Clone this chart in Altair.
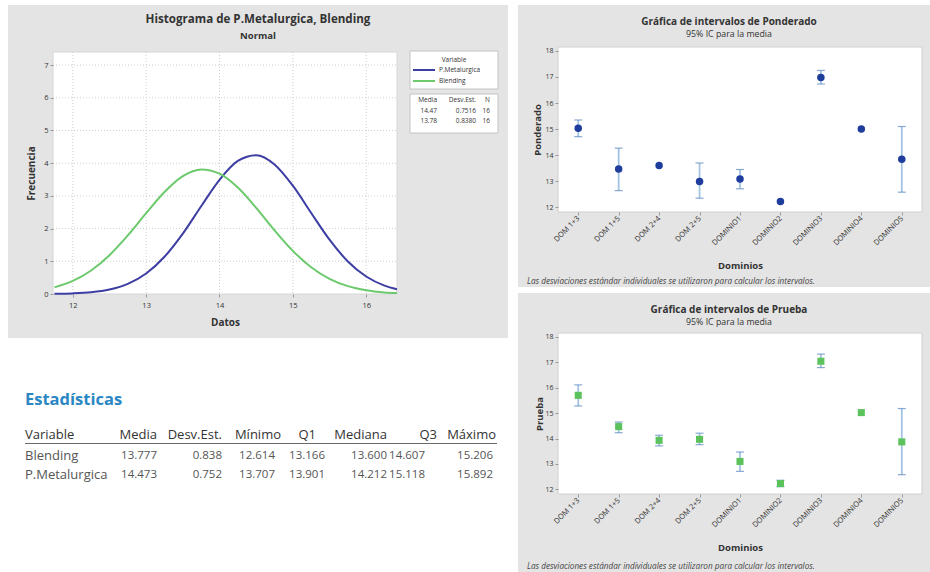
import altair as alt
import pandas as pd

FONT = "Open Sans"
PANEL_GREY = "#e4e4e4"
TEXT = "#333333"
W, H = 930, 572

# ---------------- Histogram panel: fitted normal curves ----------------
datos = [11.75, 12.0, 12.25, 12.5, 12.75, 13.0, 13.25, 13.5, 13.75, 14.0,
         14.25, 14.5, 14.75, 15.0, 15.25, 15.5, 15.75, 16.0, 16.25, 16.42]
frec_metalurgica = [0.006, 0.019, 0.054, 0.137, 0.310, 0.627, 1.138, 1.846, 2.683, 3.492,
                    4.068, 4.243, 3.961, 3.311, 2.478, 1.660, 0.996, 0.535, 0.257, 0.147]
frec_blending = [0.203, 0.399, 0.719, 1.187, 1.790, 2.470, 3.118, 3.602, 3.807, 3.680,
                 3.254, 2.634, 1.949, 1.320, 0.818, 0.463, 0.240, 0.114, 0.049, 0.027]
hist_x_ticks = [12, 13, 14, 15, 16]
hist_y_ticks = [0, 1, 2, 3, 4, 5, 6, 7]
series = ["P.Metalurgica", "Blending"]
series_colors = ["#3c3ea3", "#6cc96c"]
leg_media = ["14.47", "13.78"]
leg_desv = ["0.7516", "0.8380"]
leg_n = ["16", "16"]

# ---------------- Statistics table ----------------
stat_variables = ["Blending", "P.Metalurgica"]
stat_media = [13.777, 14.473]
stat_desv = [0.838, 0.752]
stat_minimo = [12.614, 13.707]
stat_q1 = [13.166, 13.901]
stat_mediana = [13.600, 14.212]
stat_q3 = [14.607, 15.118]
stat_maximo = [15.206, 15.892]
stat_headers = ["Variable", "Media", "Desv.Est.", "Mínimo", "Q1", "Mediana", "Q3", "Máximo"]

# ---------------- Interval plots ----------------
dominios = ["DOM 1+3", "DOM 1+5", "DOM 2+4", "DOM 2+5", "DOMINIO1",
            "DOMINIO2", "DOMINIO3", "DOMINIO4", "DOMINIO5"]
interval_y_ticks = [12, 13, 14, 15, 16, 17, 18]
pond_media = [15.03, 13.47, 13.60, 12.99, 13.09, 12.22, 16.98, 15.00, 13.84]
pond_inf = [14.71, 12.64, None, 12.35, 12.71, None, 16.73, None, 12.58]
pond_sup = [15.35, 14.27, None, 13.70, 13.45, None, 17.25, None, 15.10]
prueba_media = [15.70, 14.47, 13.93, 13.97, 13.10, 12.23, 17.04, 15.02, 13.87]
prueba_inf = [15.28, 14.23, 13.71, 13.76, 12.71, 12.11, 16.79, None, 12.58]
prueba_sup = [16.11, 14.65, 14.13, 14.21, 13.47, 12.36, 17.32, None, 15.18]

NOTE = "Las desviaciones estándar individuales se utilizaron para calcular los intervalos."

one = pd.DataFrame({"k": [0]})


def text_layer(txt, x, y, size, weight="normal", align="center", baseline="middle",
               color=TEXT, style="normal", line_height=None):
    props = dict(fontSize=size, fontWeight=weight, align=align, baseline=baseline,
                 color=color, fontStyle=style, font=FONT)
    if line_height is not None:
        props["lineHeight"] = line_height
    return alt.Chart(one).mark_text(**props).encode(
        x=alt.value(x), y=alt.value(y), text=alt.value(txt))


def rect(x1, y1, x2, y2, **kw):
    return alt.Chart(one).mark_rect(**kw).encode(
        x=alt.value(x1), x2=alt.value(x2), y=alt.value(y1), y2=alt.value(y2))


def axis_style(**kw):
    base = dict(labelColor=TEXT, tickSize=3, tickColor="#9a9a9a", domain=False,
                grid=False, titleColor=TEXT, titleFontWeight="bold",
                titleBaseline="middle", zindex=1)
    base.update(kw)
    return alt.Axis(**base)


layers = []

# ======== Histogram (plot area x 53..397, y 52..294) ========
hx_scale = alt.Scale(domain=[11.73, 16.42], range=[53, 397], nice=False, zero=False)
hy_scale = alt.Scale(domain=[0, 7.4], range=[294, 52], nice=False, zero=False)

curves = pd.DataFrame({
    "Datos": datos * 2,
    "Frecuencia": frec_metalurgica + frec_blending,
    "Variable": [series[0]] * len(datos) + [series[1]] * len(datos),
})

layers += [
    rect(8, 5, 508, 338, color=PANEL_GREY),
    rect(53, 52, 397, 294, fill="white", stroke="#d6d6d6", strokeWidth=1),
    alt.Chart(pd.DataFrame({"t": hist_x_ticks})).mark_rule(
        color="#cfcfcf", strokeDash=[1, 2], strokeWidth=1).encode(
        x=alt.X("t:Q", scale=hx_scale, axis=None), y=alt.value(52), y2=alt.value(294)),
    alt.Chart(pd.DataFrame({"t": hist_y_ticks[1:]})).mark_rule(
        color="#cfcfcf", strokeDash=[1, 2], strokeWidth=1).encode(
        y=alt.Y("t:Q", scale=hy_scale, axis=None), x=alt.value(53), x2=alt.value(397)),
    alt.Chart(curves).mark_line(strokeWidth=2, interpolate="monotone").encode(
        x=alt.X("Datos:Q", scale=hx_scale,
                axis=axis_style(values=hist_x_ticks, format="d", orient="bottom", offset=294 - H,
                                title="Datos", labelFontSize=7.5, labelPadding=4,
                                titleFontSize=10, titleX=225, titleY=28)),
        y=alt.Y("Frecuencia:Q", scale=hy_scale,
                axis=axis_style(values=hist_y_ticks, format="d", orient="left", offset=-53,
                                title="Frecuencia", labelFontSize=7.5, labelPadding=2,
                                titleFontSize=10, titleX=-22, titleY=173)),
        color=alt.Color("Variable:N", sort=series,
                        scale=alt.Scale(domain=series, range=series_colors), legend=None),
        detail="Variable:N",
    ),
    text_layer("Histograma de P.Metalurgica, Blending", 258, 20, 11.6, weight="bold"),
    text_layer("Normal", 258, 36, 9.5, weight="bold"),
]

# legend box: Variable
leg_df = pd.DataFrame({"Variable": series})
leg_y = alt.Y("Variable:N", sort=series,
              scale=alt.Scale(type="point", domain=series, range=[70, 81], padding=0),
              axis=None)
layers += [
    rect(410, 51, 498, 89, fill="white", stroke="#c4c4c4", strokeWidth=1),
    text_layer("Variable", 454, 60, 6.5),
    alt.Chart(leg_df).mark_rule(strokeWidth=2).encode(
        x=alt.value(413), x2=alt.value(435), y=leg_y,
        color=alt.Color("Variable:N", scale=alt.Scale(domain=series, range=series_colors),
                        legend=None)),
    alt.Chart(leg_df).mark_text(align="left", baseline="middle", fontSize=6.5,
                                color=TEXT, font=FONT).encode(
        x=alt.value(439), y=leg_y, text="Variable:N"),
]
# legend box: fitted parameters
layers += [
    rect(410, 94, 498, 133, fill="white", stroke="#c4c4c4", strokeWidth=1),
    text_layer(["Media"] + leg_media, 437, 97, 6.5, align="right", baseline="top", line_height=10.5),
    text_layer(["Desv.Est."] + leg_desv, 476, 97, 6.5, align="right", baseline="top", line_height=10.5),
    text_layer(["N"] + leg_n, 490, 97, 6.5, align="right", baseline="top", line_height=10.5),
]

# ======== Statistics table ========
tabla = pd.DataFrame({
    "Variable": stat_variables, "media": stat_media, "desv": stat_desv,
    "minimo": stat_minimo, "q1": stat_q1, "mediana": stat_mediana,
    "q3": stat_q3, "maximo": stat_maximo,
})
num_fields = ["media", "desv", "minimo", "q1", "mediana", "q3", "maximo"]
col_right = [157, 222, 275, 325, 387, 425, 493]
header_anchor = [("left", 25), ("right", 157), ("right", 222), ("right", 281),
                 ("right", 316), ("right", 387), ("right", 437), ("right", 496)]
row_y = alt.Y("Variable:N", sort=stat_variables,
              scale=alt.Scale(type="point", domain=stat_variables, range=[456, 475], padding=0),
              axis=None)

layers.append(text_layer("Estadísticas", 25, 400, 16.5, weight="bold", align="left",
                         color="#2b87c3"))
for label, (align, xpos) in zip(stat_headers, header_anchor):
    layers.append(text_layer(label, xpos, 435, 13, align=align, color="#333333"))
layers.append(alt.Chart(one).mark_rule(color="#6a6a6a", strokeWidth=1.2).encode(
    x=alt.value(25), x2=alt.value(497), y=alt.value(443.5)))
layers.append(alt.Chart(tabla).mark_text(align="left", baseline="middle", fontSize=13,
                                         color="#555555", font=FONT).encode(
    x=alt.value(25), y=row_y, text="Variable:N"))
for field, xpos in zip(num_fields, col_right):
    layers.append(alt.Chart(tabla).mark_text(align="right", baseline="middle", fontSize=11.5,
                                             color="#555555", font=FONT).encode(
        x=alt.value(xpos), y=row_y, text=alt.Text(f"{field}:Q", format=".3f")))


# ======== Interval plots ========
def interval_panel(valores, inferior, superior, nombre, marca,
                   panel_top, panel_bottom, plot_top, plot_bottom, ytitle_x):
    df = pd.DataFrame({"Dominios": dominios, "valor": valores,
                       "inf": inferior, "sup": superior})
    xscale = alt.Scale(type="point", domain=dominios, range=[558, 922], padding=0.5)
    yscale = alt.Scale(domain=[11.82, 18.15], range=[plot_bottom, plot_top],
                       nice=False, zero=False)
    x_plain = alt.X("Dominios:N", sort=dominios, scale=xscale, axis=None)
    x_axis = alt.X("Dominios:N", sort=dominios, scale=xscale,
                   axis=axis_style(orient="bottom", offset=plot_bottom - H, title="Dominios",
                                   labelAngle=315, labelAlign="right", labelBaseline="middle",
                                   labelFontSize=7.5, labelPadding=2, titleFontSize=9.5,
                                   titleX=740, titleY=53))
    y_axis = alt.Axis(values=interval_y_ticks, format="d", orient="left", offset=-558,
                      title=nombre, labelColor=TEXT, labelFontSize=7, labelPadding=2,
                      tickSize=3, tickColor="#9a9a9a", domain=False, grid=False,
                      titleColor=TEXT, titleFontWeight="bold", titleFontSize=9.5,
                      titleBaseline="middle", titleX=ytitle_x,
                      titleY=(plot_top + plot_bottom) / 2, zindex=1)

    out = [
        rect(518, panel_top, 930, panel_bottom, color=PANEL_GREY),
        rect(558, plot_top, 922, plot_bottom, fill="white", stroke="#d0d0d0", strokeWidth=1),
        alt.Chart(df).mark_rule(color="#a3c3e2", strokeWidth=1.8).encode(
            x=x_plain, y=alt.Y("inf:Q", scale=yscale, axis=None), y2="sup:Q"),
        alt.Chart(df).mark_tick(color="#5a86bd", size=8, thickness=1.2).encode(
            x=x_plain, y=alt.Y("inf:Q", scale=yscale, axis=None)),
        alt.Chart(df).mark_tick(color="#5a86bd", size=8, thickness=1.2).encode(
            x=x_plain, y=alt.Y("sup:Q", scale=yscale, axis=None)),
    ]
    if marca == "circle":
        pts = alt.Chart(df).mark_circle(size=56, color="#1f3d9d", opacity=1)
    else:
        pts = alt.Chart(df).mark_square(size=50, color="#5cc25c", opacity=1)
    out.append(pts.encode(x=x_axis, y=alt.Y("valor:Q", scale=yscale, axis=y_axis)))
    out += [
        text_layer(f"Gráfica de intervalos de {nombre}", 729, panel_top + 17, 10, weight="bold"),
        text_layer("95% IC para la media", 729, panel_top + 29, 8.8),
        text_layer(NOTE, 527, panel_bottom - 5, 8.2, align="left", color="#444444",
                   style="italic"),
    ]
    return out


layers += interval_panel(pond_media, pond_inf, pond_sup, "Ponderado", "circle",
                         5, 287, 47, 212, -21)
layers += interval_panel(prueba_media, prueba_inf, prueba_sup, "Prueba", "square",
                         293, 572, 333, 494, -19)

chart = alt.layer(*layers).resolve_scale(
    x="independent", y="independent", color="independent"
).resolve_axis(
    x="independent", y="independent"
).properties(
    width=W, height=H, padding=0, background="white",
    autosize=alt.AutoSizeParams(type="none"),
).configure(font=FONT).configure_view(stroke="transparent")

chart.save("out.html", embed_options={"renderer": "svg", "actions": False})
